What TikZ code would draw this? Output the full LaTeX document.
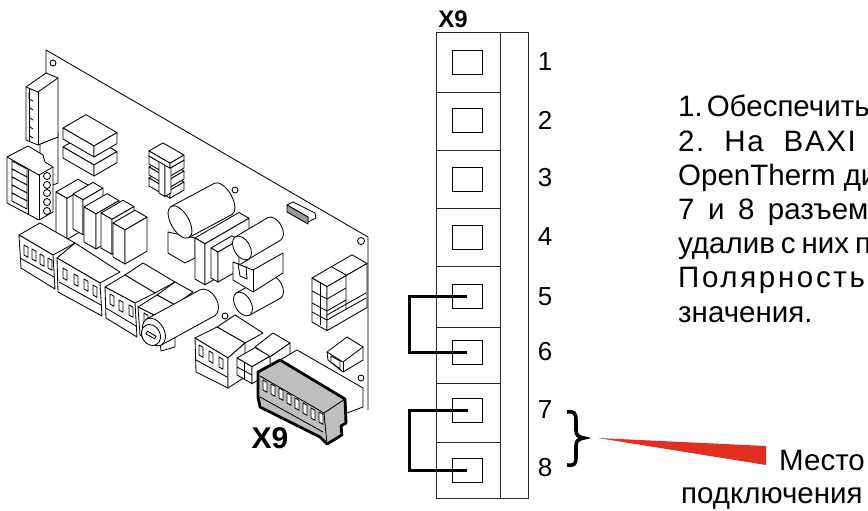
\documentclass[tikz,border=0pt]{standalone}
\usepackage{fontspec}
\setmainfont{Liberation Sans}
\definecolor{wedgered}{HTML}{E03020}
\definecolor{plugfill}{HTML}{BEBEBE}
\newcommand{\isobox}[5]{
	\draw[part] (#1,#2) -- ++(#3,0.58*#3) -- ++(#4,-0.58*#4) -- ++(-#3,-0.58*#3) -- cycle;
	\draw[part] (#1,#2) -- ++(#3,0.58*#3) -- ++(0,#5) -- ++(-#3,-0.58*#3) -- cycle;
	\draw[part] (#1,#2) ++(#3,0.58*#3) -- ++(#4,-0.58*#4) -- ++(0,#5) -- ++(-#4,0.58*#4) -- cycle;}
\newcommand{\isoslot}[2]{
	\draw[part] (#1,#2) -- ++(4,2.3) -- ++(0,10) -- ++(-4,-2.3) -- cycle;}
\newcommand{\isocyl}[7]{
	\draw[part, rotate around={#7:(#3,#4)}] (#3,#4) ellipse (#5 and #6);
	\fill[white] ({#1-0.5*#6},{#2-0.86*#6}) -- ({#3-0.5*#6},{#4-0.86*#6}) -- ({#3+0.5*#6},{#4+0.86*#6}) -- ({#1+0.5*#6},{#2+0.86*#6}) -- cycle;
	\draw[part] ({#1-0.5*#6},{#2-0.86*#6}) -- ({#3-0.5*#6},{#4-0.86*#6});
	\draw[part] ({#1+0.5*#6},{#2+0.86*#6}) -- ({#3+0.5*#6},{#4+0.86*#6});
	\draw[part, rotate around={#7:(#1,#2)}] (#1,#2) ellipse (#5 and #6);}
\begin{document}
\begin{tikzpicture}[x=1pt, y=-1pt]
	\tikzset{part/.style={draw, fill=white, line width=0.85pt, line join=round}}
	\tikzset{thin part/.style={line width=0.85pt}}
	\tikzset{plug/.style={draw, fill=plugfill, line width=2.8pt, line join=round}}
	\tikzset{cellline/.style={line width=0.9pt, draw=black!85}}
	\tikzset{contact/.style={shape=rectangle, draw, line width=0.9pt, minimum width=30pt, minimum height=24pt, inner sep=0pt}}
	\tikzset{jumper/.style={line width=3pt, line join=miter}}
	\tikzset{num/.style={inner sep=0pt, font=\fontsize{26}{26}\selectfont}}
	\tikzset{note/.style={anchor=base west, inner sep=0pt, font=\fontsize{29.5}{29.5}\selectfont}}
	\clip (0,0) rectangle (868,511);
	%board
	\draw[thin part] (46,75) -- (46,50) -- (368,237) -- (368,410);
	\draw[part] (53,63) circle (3);
	\draw[part] (235,190) circle (3);
	\draw[part] (361,241) circle (3.5);
	\draw[part] (361,378) circle (3);
	\draw[part] (225,316) circle (3);
	%top left parts
	\draw[part] (40,140) -- (56,132) -- (58,133) -- (58,183) -- (40,190) -- cycle;
	\draw[part] (26,87) -- (46,73) -- (58,78) -- (58,137) -- (38,145) -- (26,140) -- cycle;
	\draw[part] (26,87) -- (38,92) -- (58,78);
	\draw[part] (38,92) -- (38,145);
	\draw[thin part] (29,89) -- (29,141);
	\draw[thin part] (29,92) -- (29,99) -- (33,101);
	\draw[thin part] (30,108) -- (33,110);
	\draw[thin part] (30,118) -- (33,120);
	\draw[thin part] (30,127) -- (33,129);
	\draw[thin part] (30,136) -- (33,138);
	\isobox{63}{147}{31}{23}{11}
	\isobox{63}{128}{31}{23}{11}
	%green block
	\draw[part] (7,157) -- (28,146) -- (43,155) -- (45,162) -- (53,167) -- (53,212) -- (39,220) -- (7,203) -- cycle;
	\draw[part] (7,157) -- (39,175) -- (53,167);
	\draw[part] (39,175) -- (39,220);
	\draw[thin part] (28,169) -- (28,214);
	\draw[part] (12,161) -- (27,169) -- (27,177) -- (12,169) -- cycle;
	\draw[part] (12,169) -- (27,177) -- (27,185) -- (12,177) -- cycle;
	\draw[part] (12,177) -- (27,185) -- (27,193) -- (12,185) -- cycle;
	\draw[part] (12,185) -- (27,193) -- (27,201) -- (12,193) -- cycle;
	\draw[part] (12,193) -- (27,201) -- (27,209) -- (12,201) -- cycle;
	\draw[part] (47,176) circle (3.5);
	\draw[part] (47,185) circle (3.5);
	\draw[part] (47,193) circle (3.5);
	\draw[part] (47,202) circle (3.5);
	\draw[part] (47,211) circle (3.5);
	%small block
	\isobox{149}{178}{21}{14}{8}
	\isobox{149}{167}{21}{14}{8}
	\isobox{149}{156}{21}{14}{8}
	\isobox{159}{158}{6}{6}{35}
	\isobox{149}{151}{21}{14}{5}
	%relays
	\isobox{56}{192}{11}{22}{41}
	\isobox{73}{194}{10}{20}{35}
	\isobox{84}{207}{12}{23}{35}
	\isobox{101}{213}{11}{22}{35}
	\isobox{113}{223}{12}{22}{34}
	%capacitors
	\draw[part] (168,232) -- (195,238) -- (195,258) -- (185,263) -- (168,253) -- cycle;
	\isocyl{180}{222}{223}{199}{9}{18}{30}
	\isocyl{243}{304}{274}{287}{8}{13}{30}
	\isobox{195}{238}{10}{44}{41}
	\isobox{211}{248}{7}{21}{30}
	\isocyl{242}{248}{274}{229}{8}{13}{30}
	\draw[part] (233,262) -- (253,270) -- (283,253) -- (283,273) -- (253,292) -- (233,280) -- cycle;
	\draw[thin part] (253,270) -- (253,292);
	\draw[thin part] (238,263) -- (240,276) -- (247,279) -- (246,266);
	%chip
	\draw[part] (287,205) -- (293,202) -- (315,213) -- (316,218) -- (308,222) -- (308,217) -- cycle;
	\draw[part, fill=black!40] (287,205) -- (308,217) -- (308,224) -- (287,212) -- cycle;
	%connector right
	\isobox{312}{278}{15}{40}{44}
	\draw[thin part] (332,267) -- (346,275) -- (346,310);
	\draw[thin part] (312,291) -- (327,299) -- (346,288);
	\draw[thin part] (312,303) -- (327,311) -- (346,300);
	\draw[thin part] (312,312) -- (327,320) -- (366,298);
	\draw[thin part] (320,282) -- (320,325);
	\draw[thin part] (327,315) -- (366,293);
	%terminals front row
	\draw[part] (19,235) -- (40,223) -- (75,243) -- (53,255) -- cycle;
	\draw[part] (19,235) -- (53,255) -- (55,289) -- (21,268) -- cycle;
	\draw[thin part] (20,258) -- (54,277);
	\isoslot{24}{245}
	\isoslot{32}{249}
	\isoslot{40}{254}
	\isoslot{48}{258}
	\draw[part] (75,243) -- (120,272) -- (100,283) -- (57,258) -- cycle;
	\draw[part] (57,258) -- (100,283) -- (102,316) -- (58,292) -- cycle;
	\draw[thin part] (59,282) -- (101,305);
	\isoslot{63}{268}
	\isoslot{74}{274}
	\isoslot{84}{279}
	\isoslot{93}{285}
	\draw[part] (143,263) -- (175,282) -- (155,293) -- (125,275) -- cycle;
	\draw[part] (125,275) -- (155,293) -- (135,303) -- (105,287) -- cycle;
	\draw[part] (105,287) -- (135,303) -- (137,337) -- (106,318) -- cycle;
	\draw[thin part] (106,308) -- (136,326);
	\isoslot{110}{294}
	\isoslot{119}{300}
	\isoslot{129}{305}
	%knob
	\draw[part] (175,282) -- (193,292) -- (175,305) -- (157,295) -- cycle;
	\draw[part] (157,295) -- (175,305) -- (156,316) -- (138,307) -- cycle;
	\draw[part] (138,307) -- (156,316) -- (156,345) -- (140,335) -- cycle;
	\isoslot{144}{313}
	\draw[part] (160,340) -- (175,337) -- (175,347) -- (161,351) -- cycle;
	\isocyl{154}{332}{207}{303}{10}{15}{30}
	\draw[part, rotate around={30:(151,335)}] (151,335) ellipse (9 and 11);
	\draw[part, rotate around={-30:(151,335)}] (146,333.5) rectangle (156,336.5);
	%lower terminal
	\draw[part] (217,327) -- (235,315) -- (263,333) -- (245,343) -- cycle;
	\draw[part] (195,338) -- (217,327) -- (245,343) -- (228,358) -- cycle;
	\draw[part] (195,338) -- (228,358) -- (228,388) -- (196,372) -- cycle;
	\draw[part] (228,358) -- (245,343) -- (245,377) -- (228,388) -- cycle;
	\draw[thin part] (196,360) -- (227,377);
	\isoslot{199}{345}
	\isoslot{209}{351}
	\isoslot{219}{357}
	%double connector
	\draw[part] (255,347) -- (273,333) -- (290,343) -- (270,357) -- cycle;
	\draw[part] (270,357) -- (290,343) -- (290,355) -- (270,372) -- cycle;
	\isobox{237}{358}{15}{18}{17}
	\draw[thin part] (244,362) -- (244,379);
	\draw[thin part] (237,367) -- (252,375);
	%small socket
	\draw[part] (327,352) -- (347,337) -- (363,347) -- (363,360) -- (343,372) -- (328,360) -- cycle;
	\draw[part] (327,352) -- (343,362) -- (363,347);
	\draw[part] (343,362) -- (343,372);
	\draw[part] (331,356) -- (340,361) -- (340,369) -- (331,362) -- cycle;
	%housing behind X9
	\draw[part] (280,360) -- (297,350) -- (363,388) -- (363,407) -- (347,413) -- (345,399) -- cycle;
	%X9 plug
	\draw[plug] (258,372) -- (280,360) -- (345,399) -- (346,423) -- (341,426) -- (342,435) -- (327,444) -- (320,437) -- (260,407) -- (258,397) -- cycle;
	\draw[thin part] (260,376) -- (324,413) -- (345,399);
	\draw[thin part] (324,413) -- (327,444);
	\draw[thin part] (260,397) -- (323,432);
	\isoslot{263}{380}
	\isoslot{271}{384}
	\isoslot{279}{388}
	\isoslot{287}{393}
	\isoslot{295}{398}
	\isoslot{303}{403}
	\isoslot{311}{408}
	\isoslot{319}{412}
	\node[inner sep=0pt, font=\fontsize{30}{30}\bfseries\selectfont] (plugname) at (270,438) {X9};
	%terminal strip
	\draw[cellline] (436,32) rectangle (528,498);
	\draw[cellline] (500,32) -- (500,498);
	\draw[cellline] (436,92) -- (500,92);
	\draw[cellline] (436,150) -- (500,150);
	\draw[cellline] (436,208) -- (500,208);
	\draw[cellline] (436,266) -- (500,266);
	\draw[cellline] (436,327) -- (500,327);
	\draw[cellline] (436,383) -- (500,383);
	\draw[cellline] (436,442) -- (500,442);
	\node[inner sep=0pt, font=\fontsize{24}{24}\bfseries\selectfont] (stripname) at (453,19) {X9};
	%vertices
	\node[contact] (c1) at (467,62) {};
	\node[contact] (c2) at (467,120) {};
	\node[contact] (c3) at (467,179) {};
	\node[contact] (c4) at (467,237) {};
	\node[contact] (c5) at (467,296) {};
	\node[contact] (c6) at (467,352.5) {};
	\node[contact] (c7) at (467.5,410) {};
	\node[contact] (c8) at (467,470.5) {};
	\node[num] (n1) at (545,62) {1};
	\node[num] (n2) at (545,120) {2};
	\node[num] (n3) at (545,178) {3};
	\node[num] (n4) at (545,237) {4};
	\node[num] (n5) at (545,297) {5};
	\node[num] (n6) at (545,352) {6};
	\node[num] (n7) at (545,410) {7};
	\node[num] (n8) at (545,468) {8};
	%edges
	\draw[jumper] (c5.center) -- ++(-58,0) |- (c6.center);
	\draw[jumper] (c7.center) -- ++(-58,0) |- (c8.center);
	%brace and wedge
	\draw[line width=3.6pt] (567,412) .. controls (574,411) and (576,413) .. (576,420) -- (576,430) .. controls (576,435) and (578,437) .. (584,438) .. controls (578,439) and (576,441) .. (576,446) -- (576,458) .. controls (576,464) and (574,466) .. (567,465);
	\fill[wedgered] (598,438) -- (766,446) -- (766,465) -- cycle;
	%notes
	\node[note] (l1) at (678,117) {1.\hspace{4pt}Обеспечить};
	\node[note, font=\fontsize{29.5}{29.5}\selectfont\addfontfeatures{LetterSpace=5.5}] (l2) at (678,151.5) {2.\hspace{20pt}На\hspace{20pt}BAXI};
	\node[note] (l3) at (678,185.5) {OpenTherm ди};
	\node[note] (l4) at (678,219.5) {7\hspace{13.5pt}и\hspace{13.5pt}8\hspace{13.5pt}разъем};
	\node[note] (l5) at (678,253.5) {удалив\hspace{6pt}с\hspace{6pt}них\hspace{6pt}п};
	\node[note, font=\fontsize{29.5}{29.5}\selectfont\addfontfeatures{LetterSpace=9}] (l6) at (678,287.5) {Полярность};
	\node[note] (l7) at (678,322) {значения.};
	\node[note] (place) at (779,470) {Место};
	\node[note] (conn) at (681,503) {подключения};
\end{tikzpicture}
\end{document}
